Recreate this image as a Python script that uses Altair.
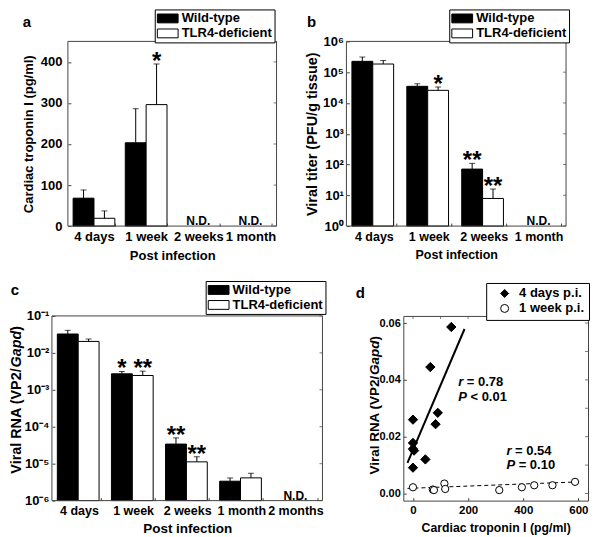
import altair as alt
import pandas as pd

FONT = "Liberation Sans"
FRAME = "#444444"
GROUPS = ["Wild-type", "TLR4-deficient"]
BAR_FILLS = ["black", "white"]

# ---------------- panel a : cardiac troponin I ----------------
a_times = ["4 days", "1 week", "2 weeks", "1 month"]
a_bar_time = ["4 days", "4 days", "1 week", "1 week"]
a_mean = [68, 19, 203, 296]
a_upper = [88, 37, 286, 395]
a_sig = ["", "", "", "*"]
a_nd = ["2 weeks", "1 month"]
a_yticks = [0, 100, 200, 300, 400]

# ---------------- panel b : viral titer ----------------
b_times = ["4 days", "1 week", "2 weeks", "1 month"]
b_bar_time = ["4 days", "4 days", "1 week", "1 week", "2 weeks", "2 weeks"]
b_mean = [2.25e5, 1.84e5, 3.47e4, 2.57e4, 71, 7.9]
b_upper = [3.1e5, 2.4e5, 4.2e4, 3.3e4, 109, 16]
b_sig = ["", "", "", "*", "**", "**"]
b_nd = ["1 month"]
b_yticks = [1, 10, 100, 1e3, 1e4, 1e5, 1e6]

# ---------------- panel c : viral RNA ----------------
c_times = ["4 days", "1 week", "2 weeks", "1 month", "2 months"]
c_bar_time = ["4 days", "4 days", "1 week", "1 week", "2 weeks", "2 weeks",
              "1 month", "1 month"]
c_mean = [3.24e-2, 2.04e-2, 2.71e-3, 2.44e-3, 3.39e-5, 1.12e-5, 3.35e-6, 4.13e-6]
c_upper = [4.07e-2, 2.37e-2, 3.13e-3, 3.2e-3, 5.0e-5, 1.54e-5, 4.1e-6, 5.5e-6]
c_sig = ["", "", "*", "**", "**", "**", "", ""]
c_nd = ["2 months"]
c_yticks = [1e-6, 1e-5, 1e-4, 1e-3, 1e-2, 1e-1]

# ---------------- panel d : correlation ----------------
d_groups = ["4 days p.i.", "1 week p.i."]
d4_trop = [139, 63, 90, 82, 0, 0, 0, 4, 45, 0]
d4_rna = [0.0586, 0.0445, 0.0284, 0.0244, 0.0260, 0.0178, 0.0157, 0.0151, 0.0120, 0.0091]
d1_trop = [0, 72, 76, 114, 117, 313, 395, 440, 506, 588]
d1_rna = [0.0022, 0.0014, 0.0012, 0.0035, 0.0016, 0.0012, 0.0022, 0.0029, 0.0029, 0.0041]
fit4_trop = [-20, 187]
fit4_rna = [0.0108, 0.0579]
fit1_trop = [-20, 602]
fit1_rna = [0.0018, 0.0041]
d_note_sym = ["r", "P", "r", "P"]
d_note_val = ["= 0.78", "< 0.01", "= 0.54", "= 0.10"]
d_note_x = [164, 164, 339, 339]
d_note_y = [0.0377, 0.0327, 0.0137, 0.0087]
d_xticks = [0, 100, 200, 300, 400, 500, 600]
d_yticks = [0.0, 0.01, 0.02, 0.03, 0.04, 0.05, 0.06]

H = 185
RECT_PATH = "M-1.6,-0.68H1.6V0.68H-1.6Z"

# Arial-bold advance widths (per 1000 em) for the hand-built rotated titles
CW = {" ": 278, "(": 333, ")": 333, "/": 278, "2": 556, "A": 722, "G": 778,
      "N": 722, "P": 667, "R": 722, "V": 667, "a": 556, "d": 611, "i": 278,
      "l": 278, "p": 611, "r": 389}


def tw(s, size):
    return sum(CW.get(ch, 556) for ch in s) / 1000 * size


def one_row(**kw):
    return pd.DataFrame({k: [v] for k, v in kw.items()})


def letter_layer(letter, lx, ly):
    return alt.Chart(one_row(t=letter)).mark_text(
        font=FONT, fontSize=15, fontWeight="bold", align="center", baseline="middle",
        color="black").encode(x=alt.value(lx), y=alt.value(ly), text="t:N")


def anchor_layer(x0, x1, top, bottom):
    # invisible box that fixes the panel's layout extent
    return alt.Chart(one_row(v=0)).mark_rect(opacity=0).encode(
        x=alt.value(x0), x2=alt.value(x1), y=alt.value(-top), y2=alt.value(H + bottom))


def frame_layer(x0, x1):
    return alt.Chart(one_row(v=0)).mark_rect(
        fillOpacity=0, stroke=FRAME, strokeWidth=1).encode(
        x=alt.value(x0), x2=alt.value(x1), y=alt.value(0), y2=alt.value(H))


def right_ticks(field, values, xpix):
    # mirrored major ticks on the right edge of the frame, pointing inward
    return alt.Chart(pd.DataFrame({field: values})).mark_tick(
        orient="horizontal", size=3, thickness=1, color=FRAME).encode(
        y=alt.Y(f"{field}:Q"), x=alt.value(xpix))


def rna_title(x_px, yc_px, size):
    parts = [("Viral RNA (VP2/", "normal"), ("Gapd", "italic"), (")", "normal")]
    total = sum(tw(t, size) for t, _ in parts)
    y = yc_px + total / 2
    layers = []
    for t, style in parts:
        layers.append(alt.Chart(one_row(t=t)).mark_text(
            font=FONT, fontSize=size, fontWeight="bold", fontStyle=style, angle=270,
            align="left", baseline="middle", color="black").encode(
            x=alt.value(x_px), y=alt.value(y), text="t:N"))
        y -= tw(t, size)
    return layers


def bar_panel(letter, lpos, times, bar_time, mean, upper, sig, nd, yscale, yaxis,
              yticks, ymin, x0, width, legxy, xlab_size, xtitle_size, xtitle_pad,
              ytitle, anchor, extra=()):
    """x0: left edge of the plot frame inside the view (pixels)."""
    n = len(bar_time)
    df = pd.DataFrame({"time": bar_time, "group": (GROUPS * n)[:n], "mean": mean,
                       "upper": upper, "sig": sig})
    xenc = alt.X("time:N", sort=times,
                 scale=alt.Scale(domain=times, range=[x0, x0 + width],
                                 paddingInner=0.2, paddingOuter=0.1),
                 axis=alt.Axis(labelAngle=0, tickSize=3, offset=-3, tickBand="extent",
                               labelPadding=4, labelFontSize=xlab_size,
                               titleFontSize=xtitle_size, titlePadding=xtitle_pad,
                               labelOverlap=False),
                 title="Post infection")
    xoff = alt.XOffset("group:N", sort=GROUPS,
                       scale=alt.Scale(domain=GROUPS, paddingInner=0, paddingOuter=0))
    legend = alt.Legend(orient="none", legendX=x0 + legxy[0], legendY=legxy[1],
                        title=None, strokeColor="black", fillColor="white", padding=2,
                        symbolType=RECT_PATH, symbolSize=169, symbolStrokeColor="black",
                        symbolStrokeWidth=1, symbolOffset=4, labelOffset=7,
                        labelFont=FONT, labelFontSize=13, labelFontWeight="bold",
                        labelColor="black", rowPadding=1)
    base = alt.Chart(df)
    yenc = alt.Y("mean:Q", scale=yscale, axis=yaxis, title=ytitle)
    bars = base.mark_bar(stroke="black", strokeWidth=1).encode(
        x=xenc, xOffset=xoff, y=yenc, y2=alt.datum(ymin),
        fill=alt.Fill("group:N", scale=alt.Scale(domain=GROUPS, range=BAR_FILLS),
                      legend=legend))
    err = base.mark_rule(color="black", strokeWidth=1).encode(
        x=xenc, xOffset=xoff, y="mean:Q", y2="upper:Q")
    cap = base.mark_tick(color="black", thickness=1, size=6).encode(
        x=xenc, xOffset=xoff, y="upper:Q")
    stars = base.mark_text(font=FONT, fontSize=24, fontWeight="bold",
                           baseline="alphabetic", dy=5, color="black").encode(
        x=xenc, xOffset=xoff, y="upper:Q", text="sig:N")
    ndt = alt.Chart(pd.DataFrame({"time": nd, "label": ["N.D."] * len(nd)})).mark_text(
        font=FONT, fontSize=12, fontWeight="bold", baseline="alphabetic", dy=-1,
        color="black").encode(x=xenc, y=alt.datum(ymin), text="label:N")
    layers = [bars, err, cap, stars, ndt, letter_layer(letter, x0 + lpos[0], lpos[1]),
              frame_layer(x0, x0 + width),
              right_ticks("mean", yticks, x0 + width - 1.5),
              anchor_layer(x0 - anchor[0], x0 + width + anchor[1], anchor[2], anchor[3])]
    layers += list(extra)
    return alt.layer(*layers).properties(
        width=x0 + width, height=H, view=alt.ViewBackground(strokeOpacity=0))


sup_idx = "['⁰','¹','²','³','⁴','⁵','⁶']"

A_SHIFT = 16  # panel a frame sits 16 px right of panel c's frame

panel_a = bar_panel(
    "a", (-41, -19), a_times, a_bar_time, a_mean, a_upper, a_sig, a_nd,
    alt.Scale(domain=[0, 450], nice=False, zero=True),
    alt.Axis(values=a_yticks, tickSize=3, offset=-(A_SHIFT + 3), labelPadding=6,
             labelFontSize=13, titleFontSize=13, titlePadding=5),
    a_yticks, 0, A_SHIFT, 209, (87, -32), 13, 13, 6, "Cardiac troponin I (pg/ml)",
    (30, 3, 32, 37))

panel_b = bar_panel(
    "b", (-35, -19), b_times, b_bar_time, b_mean, b_upper, b_sig, b_nd,
    alt.Scale(type="log", domain=[1, 1e6], nice=False),
    alt.Axis(values=b_yticks, tickSize=3, offset=-3, labelPadding=3, labelFontSize=13,
             labelExpr="'10' + " + sup_idx + "[round(log(datum.value)/LN10)]",
             titleFontSize=14.5, titlePadding=3),
    b_yticks, 1, 0, 220, (103, -32), 12.5, 12.5, 6, "Viral titer (PFU/g tissue)",
    (44, 3, 32, 37))

panel_c = bar_panel(
    "c", (-37, -26), c_times, c_bar_time, c_mean, c_upper, c_sig, c_nd,
    alt.Scale(type="log", domain=[1e-6, 1e-1], nice=False),
    alt.Axis(values=c_yticks, tickSize=3, offset=-3, labelPadding=3, labelFontSize=13,
             labelExpr="'10⁻' + " + sup_idx + "[-round(log(datum.value)/LN10)]",
             title=None),
    c_yticks, 1e-6, 0, 271, (154, -35), 12.5, 13.5, 4, None,
    (42, 3, 37, 37), extra=rna_title(-35, 84, 14.4))

# ---------------- panel d ----------------
d_df = pd.DataFrame({
    "trop": d4_trop + d1_trop, "rna": d4_rna + d1_rna,
    "grp": [d_groups[0]] * len(d4_trop) + [d_groups[1]] * len(d1_trop)})
fit_df = pd.DataFrame({
    "trop": fit4_trop + fit1_trop, "rna": fit4_rna + fit1_rna,
    "grp": [d_groups[0]] * 2 + [d_groups[1]] * 2})
note_df = pd.DataFrame({"trop": d_note_x, "rna": d_note_y, "sym": d_note_sym,
                        "val": d_note_val})

dx_enc = alt.X("trop:Q", scale=alt.Scale(domain=[-35, 635], nice=False, zero=False),
               axis=alt.Axis(values=d_xticks, tickSize=3, offset=-3, labelPadding=4,
                             labelFontSize=11.5, titleFontSize=12.3, titlePadding=5),
               title="Cardiac troponin I (pg/ml)")
dy_enc = alt.Y("rna:Q", scale=alt.Scale(domain=[-0.0025, 0.0625], nice=False, zero=False),
               axis=alt.Axis(values=d_yticks, format=".2f", tickSize=3, offset=-3,
                             labelPadding=3, labelFontSize=11, title=None))
d_legend = alt.Legend(orient="none", legendX=83, legendY=-33, title=None,
                      strokeColor="black", fillColor="white", padding=4,
                      symbolSize=64, symbolStrokeColor="black", symbolStrokeWidth=1,
                      symbolOffset=8, labelOffset=8,
                      labelFont=FONT, labelFontSize=13, labelFontWeight="bold",
                      labelColor="black", rowPadding=1)
shape_enc = alt.Shape("grp:N", scale=alt.Scale(domain=d_groups, range=["diamond", "circle"]),
                      legend=d_legend)
fill_enc = alt.Fill("grp:N", scale=alt.Scale(domain=d_groups, range=["black", "white"]),
                    legend=d_legend)
stroke_enc = alt.Stroke("grp:N", scale=alt.Scale(domain=d_groups, range=["black", "black"]),
                        legend=d_legend)

fit4 = alt.Chart(fit_df).transform_filter(alt.datum.grp == d_groups[0]).mark_line(
    color="black", strokeWidth=2).encode(x=dx_enc, y=dy_enc)
fit1 = alt.Chart(fit_df).transform_filter(alt.datum.grp == d_groups[1]).mark_line(
    color="black", strokeWidth=1, strokeDash=[4, 3]).encode(x=dx_enc, y=dy_enc)
pts1 = alt.Chart(d_df).transform_filter(alt.datum.grp == d_groups[1]).mark_point(
    size=53, strokeWidth=1, opacity=1, fillOpacity=1).encode(
    x=dx_enc, y=dy_enc, shape=shape_enc, fill=fill_enc, stroke=stroke_enc)
pts4 = alt.Chart(d_df).transform_filter(alt.datum.grp == d_groups[0]).mark_point(
    size=87, strokeWidth=1, opacity=1, fillOpacity=1).encode(
    x=dx_enc, y=dy_enc, shape=shape_enc, fill=fill_enc, stroke=stroke_enc)
note_sym = alt.Chart(note_df).mark_text(
    font=FONT, fontSize=13, fontWeight="bold", fontStyle="italic", align="left",
    baseline="alphabetic", color="black").encode(x="trop:Q", y="rna:Q", text="sym:N")
note_r = alt.Chart(note_df).transform_filter(alt.datum.sym == "r").mark_text(
    font=FONT, fontSize=13, fontWeight="bold", align="left", baseline="alphabetic",
    dx=8.7, color="black").encode(x="trop:Q", y="rna:Q", text="val:N")
note_p = alt.Chart(note_df).transform_filter(alt.datum.sym == "P").mark_text(
    font=FONT, fontSize=13, fontWeight="bold", align="left", baseline="alphabetic",
    dx=12.3, color="black").encode(x="trop:Q", y="rna:Q", text="val:N")
d_right = right_ticks("rna", d_yticks, 185 - 1.5)
d_top = alt.Chart(pd.DataFrame({"trop": d_xticks})).mark_tick(
    orient="vertical", size=3, thickness=1, color=FRAME).encode(
    x=alt.X("trop:Q"), y=alt.value(1.5))

panel_d = alt.layer(fit4, fit1, pts1, pts4, note_sym, note_r, note_p, d_right, d_top,
                    letter_layer("d", -43, -23), anchor_layer(-48, 188, 37, 37),
                    *rna_title(-28, 89.5, 13.5)).properties(
    width=185, height=H, view=alt.ViewBackground(stroke=FRAME, strokeWidth=1))

row1 = alt.hconcat(panel_a, panel_b, spacing=23).resolve_scale(fill="independent")
row2 = alt.hconcat(panel_c, panel_d, spacing=28).resolve_scale(
    fill="independent", shape="independent", stroke="independent")

chart = alt.vconcat(row1, row2, spacing=15, padding=0).resolve_scale(
    fill="independent", shape="independent", stroke="independent"
).configure(padding=0).configure_view(stroke=FRAME, strokeWidth=1).configure_axis(
    labelFont=FONT, titleFont=FONT, labelFontWeight="bold", titleFontWeight="bold",
    labelColor="black", titleColor="black", grid=False, domain=False, tickColor=FRAME)

chart.save("out.html", embed_options={"renderer": "svg", "actions": False})
